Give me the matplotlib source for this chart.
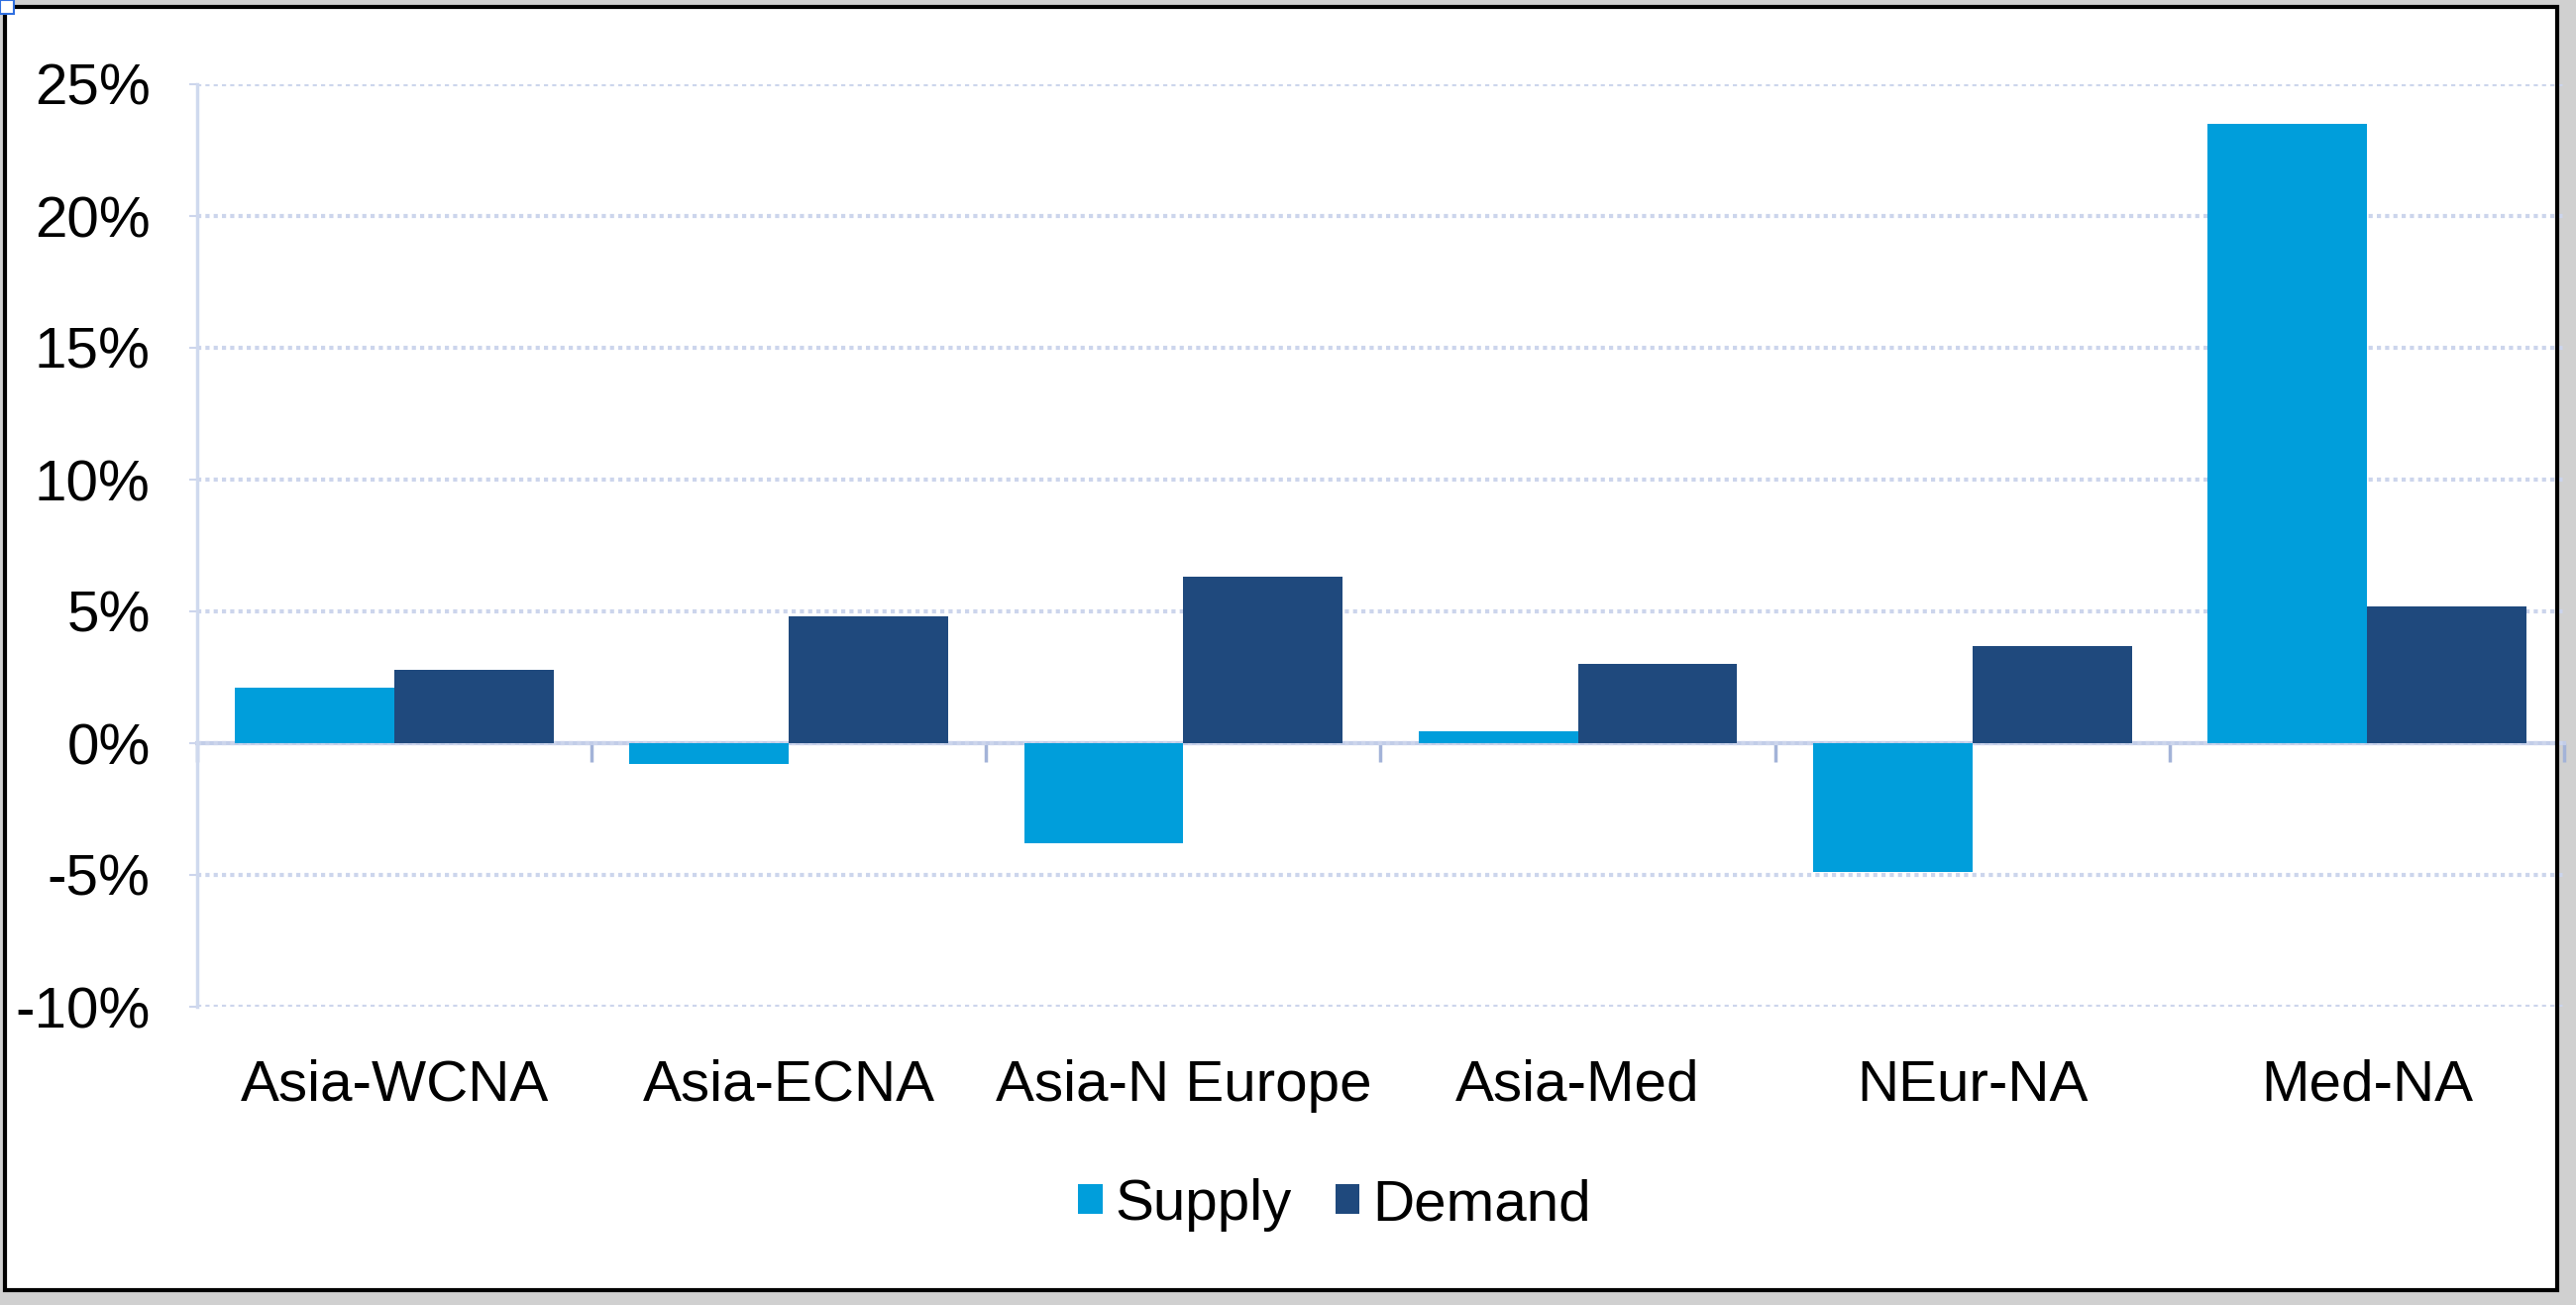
import matplotlib
matplotlib.use("Agg")
import matplotlib.pyplot as plt
from matplotlib.patches import Rectangle
import numpy as np

categories = ["Asia-WCNA", "Asia-ECNA", "Asia-N Europe", "Asia-Med", "NEur-NA", "Med-NA"]
supply = [2.1, -0.8, -3.8, 0.45, -4.9, 23.5]
demand = [2.8, 4.8, 6.3, 3.0, 3.7, 5.2]
yticks = [-10, -5, 0, 5, 10, 15, 20, 25]
ytick_labels = ["-10%", "-5%", "0%", "5%", "10%", "15%", "20%", "25%"]

SUPPLY_C = "#009EDB"
DEMAND_C = "#1F497D"
GRID_C = "#CCD5EC"
AXIS_C = "#CFD9EE"
TICK_C = "#A3B3D8"

plt.rcParams['font.family'] = ['Liberation Sans', 'DejaVu Sans']
FS = 42

W, H = 2600, 1317
fig = plt.figure(figsize=(W / 100, H / 100), dpi=100, facecolor="#D0D0D0")

# white chart area with black frame
fig.patches.append(Rectangle((5 / W, 1 - 1302 / H), (2581 - 5) / W, (1302 - 7) / H,
                             transform=fig.transFigure, facecolor="white",
                             edgecolor="none", zorder=-5))
fig.patches.append(Rectangle((5 / W, 1 - 1302 / H), (2581 - 5) / W, (1302 - 7) / H,
                             transform=fig.transFigure, facecolor="none",
                             edgecolor="black", linewidth=3.0, zorder=20))
fig.patches.append(Rectangle((0, 1 - 14 / H), 14 / W, 14 / H,
                             transform=fig.transFigure, facecolor="white",
                             edgecolor="#2F6FE0", linewidth=1.5, zorder=21))

left, right = 199 / W, 2588 / W
bottom, top = 1 - 1016 / H, 1 - 85 / H
ax = fig.add_axes([left, bottom, right - left, top - bottom])
ax.patch.set_alpha(0)

x = np.arange(len(categories))
bw = 0.404
ax.bar(x - bw / 2, supply, width=bw, color=SUPPLY_C, label="Supply", zorder=3)
ax.bar(x + bw / 2, demand, width=bw, color=DEMAND_C, label="Demand", zorder=3)

ymin, ymax = -10, 25
ax.set_ylim(ymin, ymax)
ax.set_xlim(-0.5, len(categories) - 0.5)

ax.set_yticks(yticks)
ax.set_yticklabels(ytick_labels)
ax.yaxis.grid(True, color=GRID_C, linestyle=(0, (1, 1.0)), linewidth=3.0, zorder=0)
ax.set_axisbelow(True)

for s in ["top", "right", "bottom"]:
    ax.spines[s].set_visible(False)
ax.spines["left"].set_color(AXIS_C)
ax.spines["left"].set_linewidth(2.5)

ax.tick_params(axis="y", length=6, width=1.5, color=GRID_C, pad=28, labelsize=FS,
               labelcolor="black")
ax.set_xticks(x)
ax.set_xticklabels(categories)
ax.tick_params(axis="x", length=0, pad=38, labelsize=FS, labelcolor="black")

# zero line with category boundary ticks
zero_frac = (0 - ymin) / (ymax - ymin)
sec = ax.secondary_xaxis(zero_frac)
sec.spines["bottom"].set_color("#C2CDE8")
sec.spines["bottom"].set_linewidth(3.0)
sec.set_xticks(np.arange(len(categories) + 1) - 0.5)
sec.set_xticklabels([])
sec.tick_params(axis="x", length=14, width=2.5, color=TICK_C, direction="out")

leg = fig.legend(loc="center", bbox_to_anchor=(0.518, 1 - 1216 / H), ncol=2,
                 frameon=False, fontsize=FS, handlelength=0.42, handleheight=0.42,
                 handletextpad=0.22, columnspacing=0.75, borderpad=0)

fig.savefig("out.png", dpi=100, facecolor=fig.get_facecolor())
